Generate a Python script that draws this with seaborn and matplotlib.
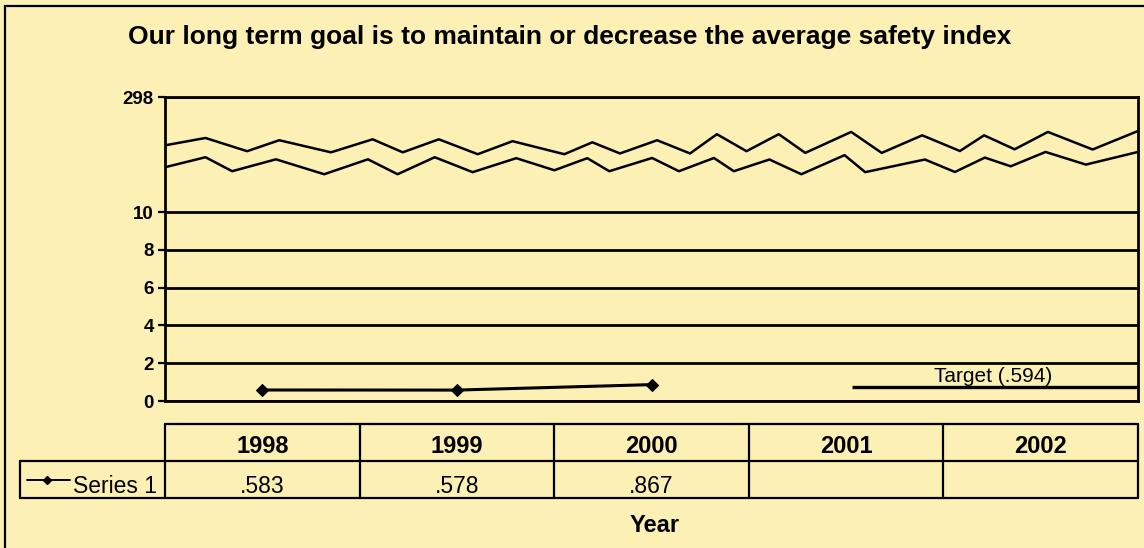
import numpy as np
import pandas as pd
import matplotlib
matplotlib.use("Agg")
import matplotlib.pyplot as plt
import seaborn as sns
from matplotlib.patches import Rectangle

# ---------------- data ----------------
title = "Our long term goal is to maintain or decrease the average safety index"
years = ["1998", "1999", "2000", "2001", "2002"]
series_name = "Series 1"
series_values = [0.583, 0.578, 0.867, np.nan, np.nan]
value_labels = [".583", ".578", ".867", "", ""]
target_label = "Target (.594)"
target_level = 0.75          # where the target line sits in the picture
target_start = 3.03          # starts near the 2001 category
ytick_values = [0, 2, 4, 6, 8, 10, 16.1]
ytick_labels = ["0", "2", "4", "6", "8", "10", "298"]
y_top = 16.1
x_label = "Year"

# axis-break zigzags (decoration), in data units
break_upper_x = [-0.5, -0.292, -0.078, 0.087, 0.353, 0.567, 0.722, 0.907, 1.107, 1.286,
                 1.552, 1.696, 1.838, 2.029, 2.198, 2.336, 2.488, 2.654, 2.790, 3.026,
                 3.183, 3.391, 3.585, 3.709, 3.866, 4.037, 4.267, 4.5]
break_upper_y = [13.54, 13.93, 13.23, 13.81, 13.17, 13.86, 13.17, 13.86, 13.07, 13.76,
                 13.07, 13.70, 13.11, 13.81, 13.11, 14.13, 13.23, 14.13, 13.14, 14.25,
                 13.14, 14.07, 13.24, 14.07, 13.33, 14.25, 13.32, 14.30]
break_lower_x = [-0.5, -0.292, -0.155, 0.070, 0.318, 0.543, 0.695, 0.886, 1.081, 1.305,
                 1.501, 1.670, 1.783, 2.003, 2.141, 2.321, 2.423, 2.606, 2.770, 2.992,
                 3.098, 3.405, 3.559, 3.713, 3.846, 4.025, 4.232, 4.5]
break_lower_y = [12.38, 12.91, 12.17, 12.80, 12.01, 12.80, 12.01, 12.91, 12.12, 12.86,
                 12.22, 12.86, 12.17, 12.87, 12.17, 12.87, 12.17, 12.79, 12.01, 13.02,
                 12.12, 12.79, 12.13, 12.89, 12.43, 13.19, 12.52, 13.19]

# ---------------- styling ----------------
sns.set_style("white")
plt.rcParams["font.family"] = ["Liberation Sans", "DejaVu Sans"]
plt.rcParams["text.color"] = "black"
plt.rcParams["ytick.color"] = "black"
plt.rcParams["ytick.labelcolor"] = "black"
BG = "#FCF0B4"
W, H = 1144, 548


def fx(px):
    return px / W


def fy(py):
    return 1 - py / H


fig = plt.figure(figsize=(W / 100, H / 100), dpi=100, facecolor=BG)

# outer frame
fig.add_artist(Rectangle((fx(5), fy(600)), fx(1200) - fx(5), fy(6) - fy(600),
                         transform=fig.transFigure, fill=False, ec="black", lw=1.6))

fig.text(fx(570), fy(44), title, ha="center", va="baseline",
         fontsize=19, fontweight="bold")

# ---------------- main plot ----------------
ax = fig.add_axes([fx(165), fy(401), fx(1138) - fx(165), fy(97) - fy(401)])
ax.set_facecolor(BG)

df = pd.DataFrame({"x": np.arange(len(years)), "value": series_values}).dropna()
sns.lineplot(data=df, x="x", y="value", marker="D", markersize=6.5, color="black",
             linewidth=2.2, markeredgecolor="black", markeredgewidth=0.8,
             ax=ax, legend=False, zorder=5)

ax.set_xlim(-0.5, len(years) - 0.5)
ax.set_ylim(0, y_top)
ax.set_yticks(ytick_values)
ax.set_yticklabels(ytick_labels, fontsize=13.5, fontweight="bold")
ax.set_xticks([])
ax.set_xlabel("")
ax.set_ylabel("")
ax.tick_params(axis="y", left=True, length=5, width=1.6, color="black", pad=3)
ax.grid(axis="y", color="black", linewidth=2.0)
for s in ax.spines.values():
    s.set_color("black")
    s.set_linewidth(2.0)

ax.plot(break_upper_x, break_upper_y, color="black", lw=1.8)
ax.plot(break_lower_x, break_lower_y, color="black", lw=1.8)

ax.hlines(target_level, target_start, len(years) - 0.5, color="black", lw=2.4)
ax.text(3.757, 1.03, target_label, ha="center", va="baseline", fontsize=15)

# ---------------- data table ----------------
row_left = -0.5 - (165 - 20) / 194.6
tax = fig.add_axes([fx(20), fy(498), fx(1138) - fx(20), fy(424) - fy(498)])
tax.set_xlim(row_left, len(years) - 0.5)
tax.set_ylim(0, 2)
tax.axis("off")
tl = dict(color="black", lw=1.6, clip_on=False)
tax.plot([-0.5, len(years) - 0.5], [2, 2], **tl)
tax.plot([row_left, len(years) - 0.5], [1, 1], **tl)
tax.plot([row_left, len(years) - 0.5], [0, 0], **tl)
tax.plot([row_left, row_left], [0, 1], **tl)
for i in range(len(years) + 1):
    tax.plot([i - 0.5, i - 0.5], [0, 2], **tl)
for i, (yr, vl) in enumerate(zip(years, value_labels)):
    tax.text(i, 1.224, yr, ha="center", va="baseline", fontsize=17, fontweight="bold")
    tax.text(i, 0.14, vl, ha="center", va="baseline", fontsize=16.5)
tax.plot([row_left + 0.036, row_left + 0.139, row_left + 0.257], [0.5, 0.5, 0.5],
         color="black", lw=1.4, marker="D", markersize=4.5, markevery=[1])
tax.text(row_left + 0.272, 0.14, series_name, ha="left", va="baseline", fontsize=16.5)

fig.text(fx(655), fy(532.5), x_label, ha="center", va="baseline",
         fontsize=17, fontweight="bold")

fig.savefig("out.png", dpi=100, facecolor=BG)
